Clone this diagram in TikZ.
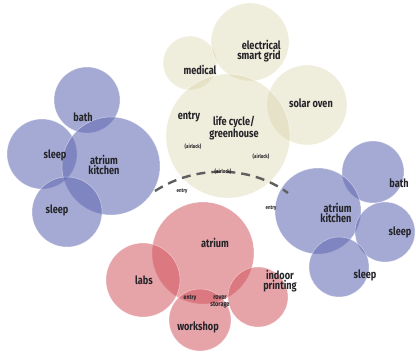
\documentclass[tikz,border=0pt]{standalone}
\usepackage{fontspec}
\setmainfont{Fira Sans}[FakeStretch=0.8,UprightFont={* Bold}]
\definecolor{beige}{RGB}{218,212,170}
\definecolor{bluec}{RGB}{95,104,178}
\definecolor{redc}{RGB}{208,80,90}
\definecolor{ink}{RGB}{35,35,40}
\definecolor{dashc}{RGB}{95,95,95}
\begin{document}
\begin{tikzpicture}[x=1bp,y=-1bp,
  beigeb/.style={fill=beige,draw=white,line width=0.6bp,draw opacity=0.6,fill opacity=0.42},
  blueb/.style={fill=bluec,draw=white,line width=0.5bp,draw opacity=0.5,fill opacity=0.56},
  redb/.style={fill=redc,draw=white,line width=0.5bp,draw opacity=0.5,fill opacity=0.52},
  lab/.style={text=ink,font=\fontsize{11.5}{10.5}\selectfont,align=center,inner sep=0pt},
  labr/.style={text=ink,font=\fontsize{11.5}{10.5}\selectfont,align=right,inner sep=0pt},
  tiny/.style={text=ink,font=\fontsize{5.5}{5.5}\selectfont,align=center,inner sep=0pt},
  arc/.style={draw=dashc,line width=2.4bp,dash pattern=on 9bp off 6bp}]
\useasboundingbox (0,0) rectangle (416,355);
% beige cluster
\filldraw[beigeb] (190,63) circle (27);
\filldraw[beigeb] (250,42) circle (39);
\filldraw[beigeb] (307,105) circle (40);
\filldraw[beigeb] (228,136) circle (62);
% left blue cluster
\filldraw[blueb] (87,100) circle (33);
\filldraw[blueb] (42,154) circle (35);
\filldraw[blueb] (111,166) circle (49);
\filldraw[blueb] (67,212) circle (35);
% right blue cluster
\filldraw[blueb] (373,172) circle (31);
\filldraw[blueb] (318,211) circle (43);
\filldraw[blueb] (385,232) circle (30);
\filldraw[blueb] (339,267) circle (30);
% red cluster
\filldraw[redb] (203,253) circle (51);
\filldraw[redb] (143,280) circle (37);
\filldraw[redb] (258,297) circle (30);
\filldraw[redb] (200,320) circle (31);
% dashed arc
\coordinate (arcA) at (155,191);
\coordinate (arcB) at (288,193);
\draw[arc] (arcA) .. controls (195,165) and (250,165) .. (arcB);
% labels
\node[lab] (tmed) at (200,70) {medical};
\node[labr] (telec) at (259,51) {electrical\\smart grid};
\node[lab] (tsolar) at (311,103) {solar oven};
\node[lab] (tentry1) at (189,117) {entry};
\node[lab] (tlife) at (234,128) {life cycle/\\greenhouse};
\node[tiny] (tair1) at (193,147) {(airlock)};
\node[tiny] (tair2) at (261,157) {(airlock)};
\node[tiny] (tair3) at (223,172) {(airlock)};
\node[lab] (tbathL) at (83,117) {bath};
\node[lab] (tsleepL1) at (55,155) {sleep};
\node[lab] (tatrL) at (104,165) {atrium\\kitchen};
\node[lab] (tsleepL2) at (57,210) {sleep};
\node[lab] (tbathR) at (399,183) {bath};
\node[labr] (tatrR) at (336,213) {atrium\\kitchen};
\node[lab] (tsleepR1) at (400,232) {sleep};
\node[lab] (tsleepR2) at (365,275) {sleep};
\node[tiny] (tentry2) at (182,191) {entry};
\node[tiny] (tentry3) at (271,208) {entry};
\node[lab] (tatrium) at (215,243) {atrium};
\node[lab] (tlabs) at (144,280) {labs};
\node[lab] (tindoor) at (280,281) {indoor\\printing};
\node[lab] (twork) at (198,327) {workshop};
\node[tiny,font=\fontsize{6.5}{6.5}\selectfont] (tentry4) at (190,298) {entry};
\node[tiny,font=\fontsize{7}{7}\selectfont] (trover) at (220,302) {rover\\storage};
\end{tikzpicture}
\end{document}
